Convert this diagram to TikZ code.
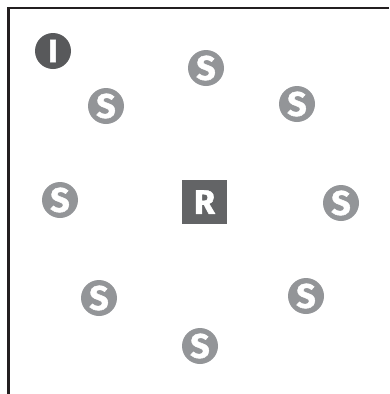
\documentclass[tikz,border=0pt]{standalone}
\usepackage{fontspec}
\setmainfont{Fira Sans}[BoldFeatures={FakeBold=1.3}]
\definecolor{frameline}{HTML}{231F20}
\definecolor{idark}{HTML}{58595B}
\definecolor{sgray}{HTML}{939598}
\definecolor{rgray}{HTML}{636466}
\begin{document}
\begin{tikzpicture}[x=1pt, y=-1pt,
	site/.style={circle, fill=sgray, inner sep=0pt, minimum size=36pt, text=white, font=\fontsize{34}{34}\selectfont\bfseries},
	init/.style={circle, fill=idark, inner sep=0pt, minimum size=36pt, text=white, font=\fontsize{32}{32}\selectfont\bfseries},
	root/.style={rectangle, fill=rgray, inner sep=0pt, minimum width=45pt, minimum height=44pt, text=white, font=\fontsize{34}{34}\selectfont\bfseries}]
	\useasboundingbox (0,0) rectangle (389,394);
	% 1. frame (top and left edge only)
	\draw[frameline, line width=2.4pt] (389,8) -- (8.5,8) -- (8.5,394);
	
	% 2. initiator and root
	\node[init] (init) at (53,51) {I};
	\node[root] (root) at (204.5,202) {R};
	
	% 3. sites around the root
	\node[site] (s1) at (206,68) {S};
	\node[site] (s2) at (297,104) {S};
	\node[site] (s3) at (341,203) {S};
	\node[site] (s4) at (306,296) {S};
	\node[site] (s5) at (200,346) {S};
	\node[site] (s6) at (99,298) {S};
	\node[site] (s7) at (60,200) {S};
	\node[site] (s8) at (106,106) {S};
\end{tikzpicture}
\end{document}
